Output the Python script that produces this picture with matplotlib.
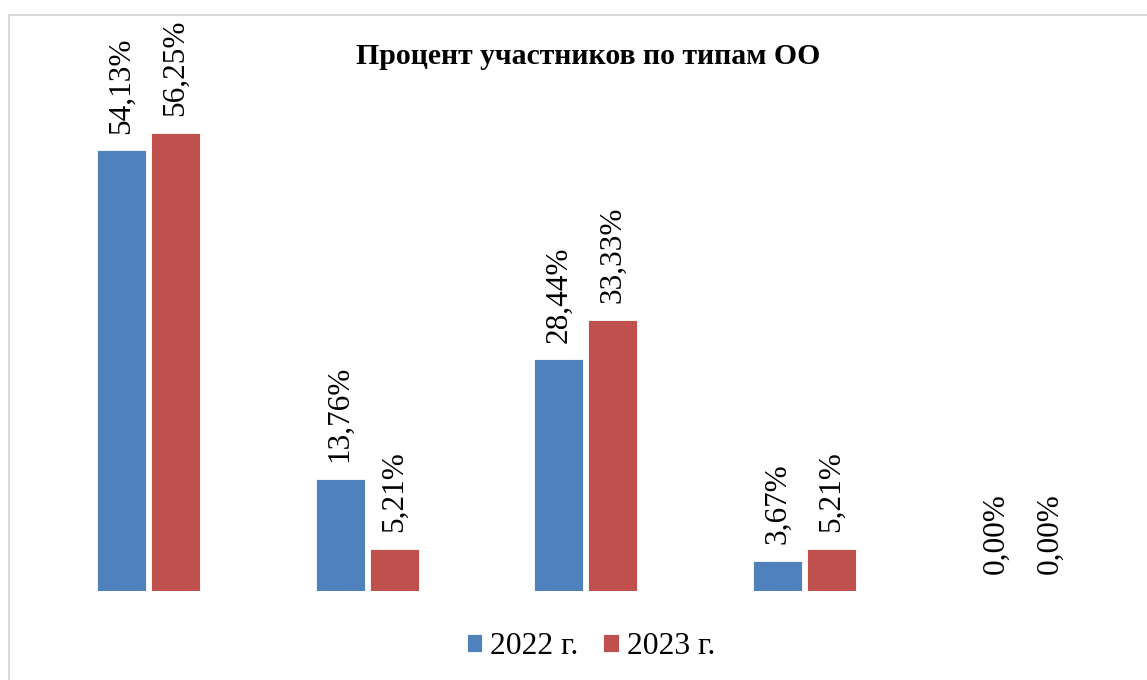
import matplotlib.pyplot as plt
from matplotlib.patches import Rectangle

plt.rcParams['font.family'] = ['Liberation Serif', 'DejaVu Serif']

# Data
categories = ["Тип 1", "Тип 2", "Тип 3", "Тип 4", "Тип 5"]
series = ["2022 г.", "2023 г."]
values_2022 = [54.13, 13.76, 28.44, 3.67, 0.00]
values_2023 = [56.25, 5.21, 33.33, 5.21, 0.00]
colors = ["#4F81BD", "#C0504D"]

W, H = 1147, 680
fig = plt.figure(figsize=(W / 100, H / 100), dpi=100)

# outer chart border (light gray, partly cut off like in the screenshot)
fig.patches.append(Rectangle((9 / W, -0.05), 1.2, (H - 15) / H + 0.05,
                             transform=fig.transFigure, fill=False,
                             edgecolor="#d9d9d9", linewidth=1.5))

# plot area: baseline at y=591 px, 60% at ~102 px
left, right = 39 / W, 1132.5 / W
bottom, top = (H - 591) / H, (H - 102.5) / H
ax = fig.add_axes([left, bottom, right - left, top - bottom])

x = list(range(len(categories)))
bw = 0.224
off = 0.1234
for vals, c, name, sgn in zip([values_2022, values_2023], colors, series, [-1, 1]):
    pos = [i + sgn * off for i in x]
    ax.bar(pos, vals, width=bw, color=c, label=name,
           edgecolor="white", linewidth=0.6)
    for p, v in zip(pos, vals):
        ax.annotate(f"{v:.2f}%".replace(".", ","), (p, v),
                    xytext=(0, 12), textcoords="offset points",
                    rotation=90, ha="center", va="bottom", fontsize=22.5)

ax.set_xlim(-0.5, len(categories) - 0.5)
ax.set_ylim(0, 60)
ax.axis("off")

fig.text(588 / W, 1 - 57 / H, "Процент участников по типам ОО",
         ha="center", va="center", fontsize=21.4, fontweight="bold")

fig.legend(loc="center", bbox_to_anchor=(591 / W, 1 - 647 / H), ncol=2,
           frameon=False, fontsize=22.8, handlelength=0.5, handleheight=0.5,
           handletextpad=0.25, columnspacing=0.78)

fig.savefig("out.png", dpi=100, facecolor="white")
